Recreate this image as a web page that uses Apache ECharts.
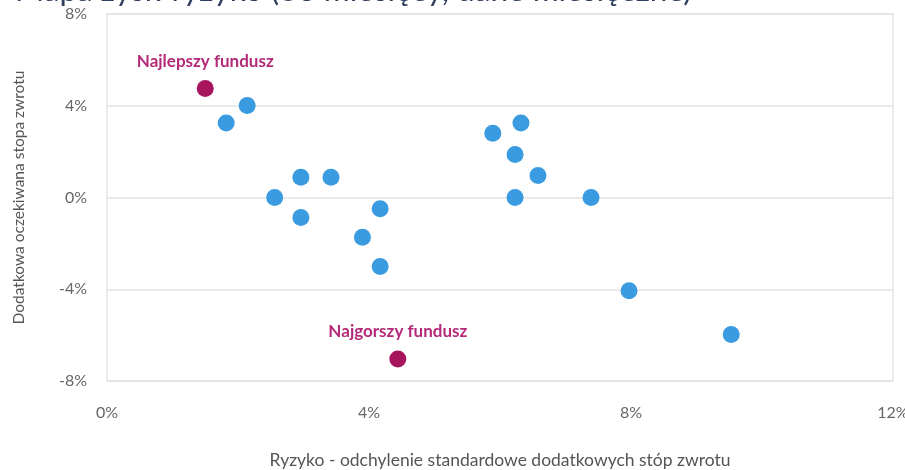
<!DOCTYPE html>
<html>
<head>
<meta charset="utf-8">
<script src="https://cdn.jsdelivr.net/npm/echarts@6/dist/echarts.min.js"></script>
<style>
html,body{margin:0;padding:0;background:#fff;}
#c{width:905px;height:470px;}
</style>
</head>
<body>
<div id="c"></div>
<script>
// Data (percent)
const titleText = 'Mapa zysk-ryzyko (36 miesięcy, dane miesięczne)';
const xAxisTitle = 'Ryzyko - odchylenie standardowe dodatkowych stóp zwrotu';
const yAxisTitle = 'Dodatkowa oczekiwana stopa zwrotu';

const fundRisk   = [2.14, 1.82, 2.96, 3.42, 2.56, 2.96, 4.17, 3.90, 4.17, 5.89, 6.32, 6.23, 6.58, 6.23, 7.39, 7.97, 9.53];
const fundReturn = [4.01, 3.25, 0.88, 0.88, 0.00, -0.87, -0.49, -1.73, -3.01, 2.80, 3.25, 1.87, 0.96, 0.00, 0.00, -4.07, -5.97];

const highlightNames  = ['Najlepszy fundusz', 'Najgorszy fundusz'];
const highlightRisk   = [1.50, 4.44];
const highlightReturn = [4.75, -7.04];

const xTicks = [0, 4, 8, 12];
const yTicks = [-8, -4, 0, 4, 8];

const fundData = fundRisk.map((x, i) => [x, fundReturn[i]]);
const hiData = highlightRisk.map((x, i) => ({ name: highlightNames[i], value: [x, highlightReturn[i]] }));

const chart = echarts.init(document.getElementById('c'), null, { renderer: 'canvas' });
const FONT = 'Lato';
chart.setOption({
  animation: false,
  backgroundColor: '#ffffff',
  title: {
    text: titleText,
    left: 10,
    top: -30,
    textStyle: { fontFamily: FONT, fontSize: 31.5, fontWeight: 'normal', color: '#2f3d5e' }
  },
  grid: {
    left: 107, right: 12, top: 14, bottom: 89,
    outerBoundsMode: 'none',
    containLabel: false,
    show: true, borderColor: '#e3e3e3', borderWidth: 1.5, backgroundColor: 'transparent'
  },
  xAxis: {
    type: 'value', min: xTicks[0], max: xTicks[xTicks.length - 1], interval: 4,
    name: xAxisTitle, nameLocation: 'middle', nameGap: 70,
    nameTextStyle: { fontFamily: FONT, fontSize: 17.5, color: '#555' },
    axisLine: { show: false }, axisTick: { show: false },
    splitLine: { show: false },
    axisLabel: { margin: 24, fontFamily: FONT, fontSize: 16, color: '#666', formatter: v => v + '%' }
  },
  yAxis: {
    type: 'value', min: yTicks[0], max: yTicks[yTicks.length - 1], interval: 4,
    name: yAxisTitle, nameLocation: 'middle', nameGap: 80,
    nameTextStyle: { fontFamily: FONT, fontSize: 15.5, color: '#555' },
    axisLine: { show: false }, axisTick: { show: false },
    splitLine: { show: true, lineStyle: { color: '#e3e3e3', width: 1.5 } },
    axisLabel: { margin: 20, fontFamily: FONT, fontSize: 16, color: '#666', formatter: v => v + '%' }
  },
  series: [
    {
      type: 'scatter', data: fundData, symbolSize: 17,
      itemStyle: { color: '#3a9be1', opacity: 1 }
    },
    {
      type: 'scatter', data: hiData, symbolSize: 17,
      itemStyle: { color: '#a8155f', opacity: 1 },
      label: {
        show: true, position: 'top', distance: 10,
        formatter: p => p.name,
        fontFamily: FONT, fontSize: 17, fontWeight: 'bold', color: '#b42a78'
      }
    }
  ]
});
</script>
</body>
</html>
